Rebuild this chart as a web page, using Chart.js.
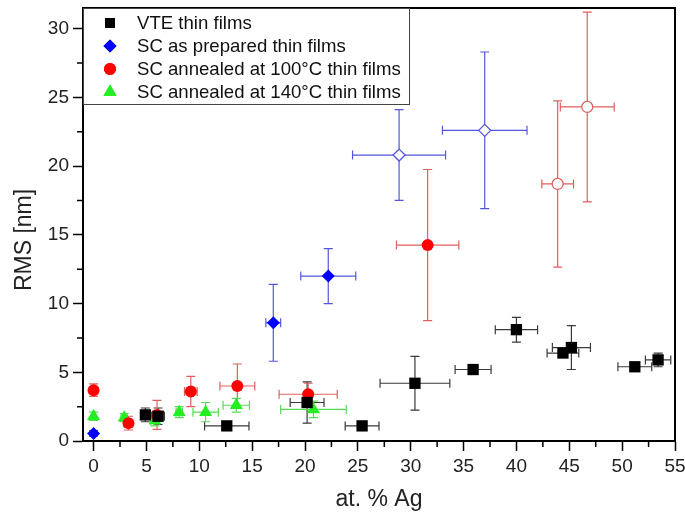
<!DOCTYPE html>
<html>
<head>
<meta charset="utf-8">
<script src="https://cdn.jsdelivr.net/npm/chart.js@4"></script>
<style>
  html, body { margin: 0; padding: 0; background: #fff; }
  #wrap { width: 685px; height: 518px; }
</style>
</head>
<body>
<div id="wrap"><canvas id="rmsChart" width="685" height="518"></canvas></div>
<script>
// data: at.% Ag vs RMS roughness
const seriesNames = ['VTE thin films', 'SC as prepared thin films', 'SC annealed at 100°C thin films', 'SC annealed at 140°C thin films'];

const vteX    = [4.9, 6.1, 12.6, 20.2, 25.4, 30.4, 35.9, 40.0, 44.4, 45.2, 51.2, 53.4];
const vteY    = [1.9, 1.8, 1.1, 2.8, 1.1, 4.2, 5.2, 8.1, 6.4, 6.8, 5.4, 5.9];
const vteXErr = [0.4, 0.6, 2.1, 1.6, 1.6, 3.3, 1.7, 2.0, 1.5, 1.8, 1.6, 1.2];
const vteYErr = [0.5, 0.6, 0.2, 1.5, 0.3, 1.95, 0.2, 0.9, 0.3, 1.6, 0.3, 0.5];

const prepX    = [0, 17.0, 22.2, 28.9, 37.0];
const prepY    = [0.55, 8.6, 12.0, 20.8, 22.6];
const prepXErr = [0, 0.7, 2.6, 4.4, 4.0];
const prepYErr = [0.2, 2.8, 2.0, 3.3, 5.7];
const prepOpen = [false, false, false, true, true];

const ann100X    = [0, 3.3, 6.0, 9.2, 13.6, 20.3, 31.6, 43.9, 46.7];
const ann100Y    = [3.7, 1.3, 1.9, 3.6, 4.0, 3.4, 14.25, 18.7, 24.3];
const ann100XErr = [0, 0.4, 0.6, 0.6, 1.65, 2.75, 2.95, 1.5, 2.55];
const ann100YErr = [0.45, 0.5, 1.05, 1.1, 1.6, 0.8, 5.5, 6.05, 6.9];
const ann100Open = [false, false, false, false, false, false, false, true, true];

const ann140X    = [0, 2.9, 5.8, 8.1, 10.6, 13.5, 20.8];
const ann140Y    = [1.8, 1.7, 1.5, 2.1, 2.1, 2.6, 2.3];
const ann140XErr = [0, 0.3, 0.4, 0.3, 1.2, 1.25, 3.1];
const ann140YErr = [0.3, 0.3, 0.4, 0.4, 0.7, 0.5, 0.6];

const xTickValues = [0, 5, 10, 15, 20, 25, 30, 35, 40, 45, 50, 55];
const yTickValues = [0, 5, 10, 15, 20, 25, 30];
const xMinorTicks = [2.5, 7.5, 12.5, 17.5, 22.5, 27.5, 32.5, 37.5, 42.5, 47.5, 52.5];
const yMinorTicks = [2.5, 7.5, 12.5, 17.5, 22.5, 27.5];

const FONT = '"Liberation Sans", Arial, sans-serif';

function makePoints(xs, ys, xe, ye) {
    return xs.map((x, i) => ({ x: x, y: ys[i], xErr: xe[i], yErr: ye[i] }));
}

function makeSet(label, pts, style, color, errColor, radius, legendRadius, open) {
    open = open || pts.map(() => false);
    return {
        label: label,
        data: pts,
        pointStyle: style,
        pointRadius: pts.map((p, i) => open[i] ? radius - 0.5 : radius),
        pointBackgroundColor: pts.map((p, i) => open[i] ? '#ffffff' : color),
        pointBorderColor: pts.map((p, i) => open[i] ? errColor : color),
        pointBorderWidth: pts.map((p, i) => open[i] ? 1.3 : 0),
        mainColor: color,
        errColor: errColor,
        legendRadius: legendRadius,
        showLine: false
    };
}

const datasets = [
    makeSet(seriesNames[0], makePoints(vteX, vteY, vteXErr, vteYErr), 'rect', '#000000', '#3a3a3a', 8, 7),
    makeSet(seriesNames[1], makePoints(prepX, prepY, prepXErr, prepYErr), 'rectRot', '#0000ff', '#5555dd', 6.5, 6.5, prepOpen),
    makeSet(seriesNames[2], makePoints(ann100X, ann100Y, ann100XErr, ann100YErr), 'circle', '#ff0000', '#e06060', 6, 6, ann100Open),
    makeSet(seriesNames[3], makePoints(ann140X, ann140Y, ann140XErr, ann140YErr), 'triangle', '#22ee22', '#55dd55', 7.5, 7.5)
];

// error bars, minor ticks, frame, y title and legend, all placed through the chart scales
const errorBars = {
    id: 'errorBars',
    beforeDatasetsDraw(chart) {
        const ctx = chart.ctx;
        const xs = chart.scales.x, ys = chart.scales.y;
        const cap = 4.5;
        ctx.save();
        chart.data.datasets.forEach(ds => {
            ctx.strokeStyle = ds.errColor;
            ctx.lineWidth = 1.2;
            ds.data.forEach(p => {
                const cx = xs.getPixelForValue(p.x), cy = ys.getPixelForValue(p.y);
                ctx.beginPath();
                if (p.yErr > 0) {
                    const y1 = ys.getPixelForValue(p.y + p.yErr), y2 = ys.getPixelForValue(p.y - p.yErr);
                    ctx.moveTo(cx, y1); ctx.lineTo(cx, y2);
                    ctx.moveTo(cx - cap, y1); ctx.lineTo(cx + cap, y1);
                    ctx.moveTo(cx - cap, y2); ctx.lineTo(cx + cap, y2);
                }
                if (p.xErr > 0) {
                    const x1 = xs.getPixelForValue(p.x - p.xErr), x2 = xs.getPixelForValue(p.x + p.xErr);
                    ctx.moveTo(x1, cy); ctx.lineTo(x2, cy);
                    ctx.moveTo(x1, cy - cap); ctx.lineTo(x1, cy + cap);
                    ctx.moveTo(x2, cy - cap); ctx.lineTo(x2, cy + cap);
                }
                ctx.stroke();
            });
        });
        ctx.restore();
    },
    afterDraw(chart) {
        const ctx = chart.ctx;
        const a = chart.chartArea;
        const xs = chart.scales.x, ys = chart.scales.y;
        ctx.save();
        // top and right frame
        ctx.strokeStyle = '#000';
        ctx.lineWidth = 2;
        ctx.beginPath();
        ctx.moveTo(a.left - 1, a.top);
        ctx.lineTo(a.right, a.top);
        ctx.lineTo(a.right, a.bottom);
        ctx.stroke();

        // minor ticks
        ctx.lineWidth = 1.5;
        ctx.beginPath();
        xMinorTicks.forEach(v => {
            const px = xs.getPixelForValue(v);
            ctx.moveTo(px, a.bottom); ctx.lineTo(px, a.bottom + 6);
        });
        yMinorTicks.forEach(v => {
            const py = ys.getPixelForValue(v);
            ctx.moveTo(a.left, py); ctx.lineTo(a.left - 6, py);
        });
        ctx.stroke();

        // y axis title
        ctx.save();
        ctx.translate(25, 240);
        ctx.rotate(-Math.PI / 2);
        ctx.font = '23px ' + FONT;
        ctx.fillStyle = '#222';
        ctx.textAlign = 'center';
        ctx.textBaseline = 'middle';
        ctx.fillText('RMS [nm]', 0, 0);
        ctx.restore();

        // legend box in the top left corner
        const bx = a.left, by = a.top, bw = 326, bh = 96;
        ctx.fillStyle = '#fff';
        ctx.fillRect(bx, by, bw, bh);
        ctx.strokeStyle = '#444';
        ctx.lineWidth = 1;
        ctx.strokeRect(bx + 0.5, by + 0.5, bw, bh);
        ctx.font = '18.6px ' + FONT;
        ctx.textBaseline = 'middle';
        chart.data.datasets.forEach((ds, i) => {
            const ry = by + 15 + i * 23;
            ctx.fillStyle = ds.mainColor;
            Chart.helpers.drawPoint(ctx, { pointStyle: ds.pointStyle, radius: ds.legendRadius, borderWidth: 0, rotation: 0 }, bx + 27, ry);
            ctx.fill();
            ctx.fillStyle = '#111';
            ctx.fillText(ds.label, bx + 54, ry + 1);
        });
        ctx.restore();
    }
};

const rmsChartCanvas = document.getElementById('rmsChart').getContext('2d');
const rmsChart = new Chart(rmsChartCanvas, {
    type: 'scatter',
    data: { datasets: datasets },
    plugins: [errorBars],
    options: {
        responsive: false,
        animation: false,
        layout: { padding: { top: 7, right: 10, left: 0, bottom: 0 } },
        plugins: { legend: { display: false }, tooltip: { enabled: false } },
        scales: {
            x: {
                type: 'linear',
                min: -1,
                max: 55,
                afterFit: s => { s.height = 77; s.paddingLeft = 0; s.paddingRight = 0; },
                afterBuildTicks: s => { s.ticks = xTickValues.map(v => ({ value: v })); },
                border: { color: '#000', width: 2 },
                grid: { drawOnChartArea: false, tickLength: 10, tickColor: '#000', tickWidth: 1.5 },
                ticks: { color: '#222', font: { size: 19, family: FONT }, padding: 4, maxRotation: 0 },
                title: { display: true, text: 'at. % Ag', color: '#222', font: { size: 23, family: FONT }, padding: { top: 4, bottom: 5 } }
            },
            y: {
                type: 'linear',
                min: 0,
                max: 31.5,
                afterFit: s => { s.width = 83; s.paddingTop = 0; s.paddingBottom = 0; },
                afterBuildTicks: s => { s.ticks = yTickValues.map(v => ({ value: v })); },
                border: { color: '#000', width: 2 },
                grid: { drawOnChartArea: false, tickLength: 10, tickColor: '#000', tickWidth: 1.5 },
                ticks: { color: '#222', font: { size: 19, family: FONT }, padding: 4 },
                title: { display: false }
            }
        }
    }
});
</script>
</body>
</html>
